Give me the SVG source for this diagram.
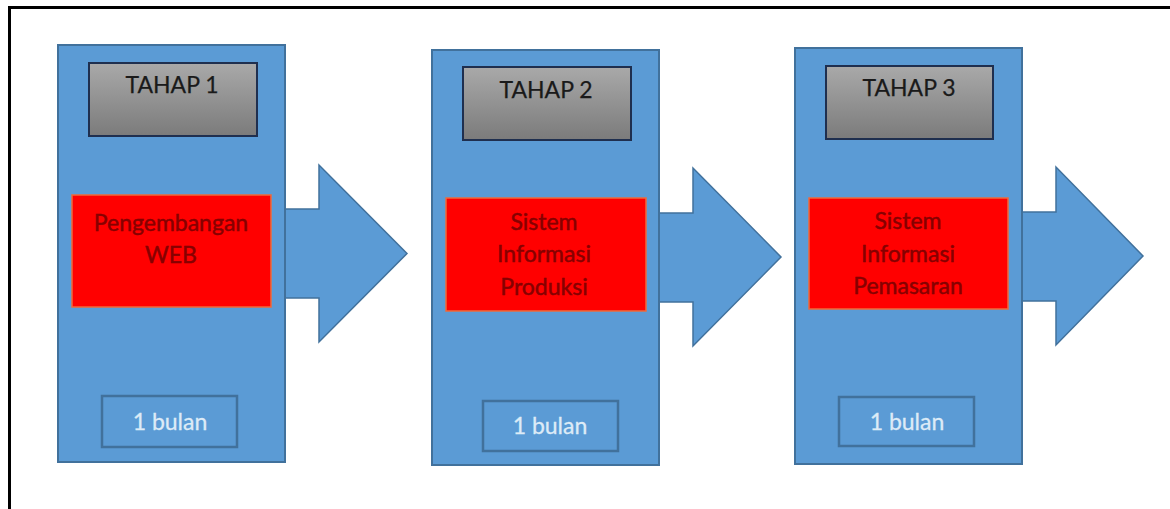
<svg xmlns="http://www.w3.org/2000/svg" width="1170" height="509" viewBox="0 0 1170 509">
  <defs>
    <linearGradient id="gray" x1="0" y1="0" x2="0" y2="1">
      <stop offset="0" stop-color="#a9a9a9"/>
      <stop offset="1" stop-color="#7b7b7b"/>
    </linearGradient>
    <style>
      .stage { fill: #5b9bd5; stroke: #41719c; stroke-width: 2; }
      .arrow { fill: #5b9bd5; stroke: #41719c; stroke-width: 1.5; }
      .head { fill: url(#gray); stroke: #1f2f4f; stroke-width: 2; }
      .task { fill: #ff0000; stroke: #f06a3a; stroke-width: 1.5; }
      .dur { fill: #5b9bd5; stroke: #41719c; stroke-width: 2.5; }
      text { font-family: Lato, "Open Sans", "Liberation Sans", sans-serif; font-size: 23px; text-anchor: middle; }
      .t-head { fill: #1a1a1a; stroke: #1a1a1a; stroke-width: 0.25; }
      .t-task { fill: #860000; stroke: #860000; stroke-width: 0.45; }
      .t-dur { fill: #ddebf7; stroke: #ddebf7; stroke-width: 0.3; }
    </style>
  </defs>
  <rect width="1170" height="509" fill="#ffffff"/>
  <path d="M9.5,509 V7.5 H1170" fill="none" stroke="#000000" stroke-width="3"/>

  <g id="connectors">
    <polygon class="arrow" points="285,209 319,209 319,165 407,253.5 319,342 319,298 285,298"/>
    <polygon class="arrow" points="659,213 693,213 693,168 781,257 693,346 693,302 659,302"/>
    <polygon class="arrow" points="1022,212 1056,212 1056,167 1143,256 1056,345 1056,301 1022,301"/>
  </g>

  <g id="stage1">
    <rect class="stage" x="58" y="45" width="227" height="417"/>
    <rect class="head" x="89" y="63" width="168" height="73"/>
    <text class="t-head" x="172" y="93">TAHAP 1</text>
    <rect class="task" x="72" y="195" width="199" height="112"/>
    <text class="t-task" x="171" y="231">Pengembangan</text>
    <text class="t-task" x="171" y="263">WEB</text>
    <rect class="dur" x="102" y="396" width="135" height="51"/>
    <text class="t-dur" x="170" y="430">1 bulan</text>
  </g>

  <g id="stage2">
    <rect class="stage" x="432" y="50" width="227" height="415"/>
    <rect class="head" x="463" y="67" width="168" height="73"/>
    <text class="t-head" x="546" y="98">TAHAP 2</text>
    <rect class="task" x="446" y="198" width="200" height="113"/>
    <text class="t-task" x="544" y="230">Sistem</text>
    <text class="t-task" x="544" y="262">Informasi</text>
    <text class="t-task" x="544" y="295">Produksi</text>
    <rect class="dur" x="483" y="401" width="135" height="50"/>
    <text class="t-dur" x="550" y="434">1 bulan</text>
  </g>

  <g id="stage3">
    <rect class="stage" x="795" y="48" width="227" height="416"/>
    <rect class="head" x="826" y="66" width="167" height="73"/>
    <text class="t-head" x="909" y="96">TAHAP 3</text>
    <rect class="task" x="809" y="198" width="199" height="111"/>
    <text class="t-task" x="908" y="229">Sistem</text>
    <text class="t-task" x="908" y="262">Informasi</text>
    <text class="t-task" x="908" y="294">Pemasaran</text>
    <rect class="dur" x="839" y="397" width="135" height="49"/>
    <text class="t-dur" x="907" y="430">1 bulan</text>
  </g>
</svg>
